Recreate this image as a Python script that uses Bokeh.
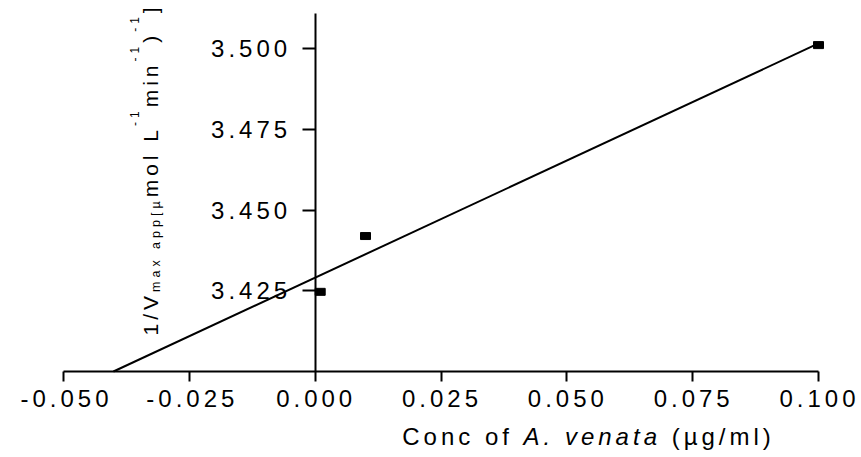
import numpy as np
from math import pi
from bokeh.plotting import figure
from bokeh.models import (LinearAxis, FixedTicker, PrintfTickFormatter, Label,
                          InlineStyleSheet, Range1d)
from bokeh.embed import file_html
from bokeh.resources import INLINE

# ---------------- data ----------------
conc = [0.001, 0.010, 0.100]             # Conc of A. venata (ug/ml)
inv_vmax = [3.4247, 3.4420, 3.5012]      # 1/Vmax app
x_ticks = [-0.050, -0.025, 0.000, 0.025, 0.050, 0.075, 0.100]
y_ticks = [3.425, 3.450, 3.475, 3.500]
x_lim = (-0.050, 0.100)
y_lim = (3.400, 3.511)
x_title_parts = [("Conc of", "normal"), ("A. venata", "italic"), ("(µg/ml)", "normal")]
y_title_parts = [("1/V", "main"), ("max app", "sub"), ("[µ", "sub"), ("mol L", "main"),
                 ("-1", "sup"), ("min", "main"), ("-1", "sup"), (")", "main"),
                 ("-1", "sup"), ("]", "main")]

# linear fit
slope, intercept = np.polyfit(conc, inv_vmax, 1)
fit_x = [(y_lim[0] - intercept) / slope, max(conc)]
fit_y = [intercept + slope * v for v in fit_x]

# ---------------- layout ----------------
# The axes box occupies pixels [63, 818] x [13, 371]; the Bokeh frame is the whole
# canvas so that labels outside the axes box are not clipped.
W, H = 861, 457
BL, BR, BT, BB = 63, 43, 13, 86
FW, FH = W - BL - BR, H - BT - BB
kx = (x_lim[1] - x_lim[0]) / FW
ky = (y_lim[1] - y_lim[0]) / FH
full_x = (x_lim[0] - BL * kx, x_lim[1] + BR * kx)
full_y = (y_lim[0] - BB * ky, y_lim[1] + BT * ky)

FONT = "Liberation Sans"
LS = 4            # letter spacing (px)
TICK_SIZE = 24

p = figure(width=W, height=H, x_range=Range1d(*full_x), y_range=Range1d(*full_y),
           output_backend="svg", toolbar_location=None,
           x_axis_location=None, y_axis_location=None,
           min_border=0, background_fill_color="white", border_fill_color="white")
p.outline_line_color = None
p.grid.visible = False
p.stylesheets = [InlineStyleSheet(css=":host { letter-spacing: %dpx; }" % LS)]


def style_axis(ax, tick_out, standoff):
    ax.axis_line_width = 2
    ax.axis_line_color = "black"
    ax.major_tick_line_width = 2
    ax.major_tick_line_color = "black"
    ax.major_tick_out = tick_out
    ax.major_tick_in = 0
    ax.minor_tick_out = 0
    ax.minor_tick_in = 0
    ax.minor_tick_line_color = None
    ax.major_label_text_font = FONT
    ax.major_label_text_font_size = "%dpx" % TICK_SIZE
    ax.major_label_text_color = "black"
    ax.major_label_standoff = standoff
    ax.formatter = PrintfTickFormatter(format="%.3f")


# bottom axis line + ticks
xa = LinearAxis(fixed_location=y_lim[0], bounds=x_lim)
style_axis(xa, 10, 6)
xa.ticker = FixedTicker(ticks=x_ticks)
xa.major_label_text_font_size = "0px"
xa.major_label_text_color = None
p.add_layout(xa, "below")

# bottom tick labels on a range shifted a few pixels (centres letter-spaced text)
shift_px = 9
d = shift_px * kx
p.extra_x_ranges = {"xlbl": Range1d(full_x[0] + d, full_x[1] + d)}
xl = LinearAxis(x_range_name="xlbl", fixed_location=y_lim[0], bounds=x_lim)
style_axis(xl, 10, 8)
xl.ticker = FixedTicker(ticks=x_ticks)
xl.axis_line_color = None
xl.major_tick_line_color = None
p.add_layout(xl, "below")

# y axis crossing at x = 0
ya = LinearAxis(fixed_location=0, bounds=y_lim)
style_axis(ya, 13, 31)
ya.ticker = FixedTicker(ticks=y_ticks)
p.add_layout(ya, "left")

# fitted line and points
p.line(fit_x, fit_y, line_color="black", line_width=2)
p.rect(conc, inv_vmax, width=10, height=7, width_units="screen",
       height_units="screen", fill_color="black", line_color="black")

# ---------------- titles ----------------
ADV = {'1': 556, '/': 278, 'V': 667, 'm': 833, 'a': 556, 'x': 500, ' ': 278, 'p': 556,
       '[': 278, ']': 278, 'µ': 576, 'o': 556, 'l': 222, 'L': 556, '-': 333, 'i': 222,
       'n': 556, ')': 333, '(': 333, 'C': 722, 'c': 500, 'f': 278, 'A': 667, '.': 278,
       'v': 500, 'e': 556, 't': 278, 'g': 556}


def text_w(s, size):
    return sum(ADV.get(ch, 556) for ch in s) * size / 1000.0 + LS * len(s)


def data_x(px):
    return full_x[0] + px * kx


def data_y(py):
    return full_y[1] - py * ky


def put(txt, px, py, size, angle=0.0, style="normal"):
    p.add_layout(Label(x=data_x(px), y=data_y(py), text=txt, angle=angle,
                       text_align="left", text_baseline="alphabetic", text_font=FONT,
                       text_font_size="%spx" % size, text_font_style=style,
                       text_color="black"))


# y title: rotated, built from pieces with sub/superscripts
Y_SIZE = {"main": 21, "sub": 12.5, "sup": 12}
Y_SHIFT = {"main": 0, "sub": 5, "sup": -16}
Y_BASE = 150
pos = 335
for txt, kind in y_title_parts:
    put(txt, Y_BASE + Y_SHIFT[kind], pos, Y_SIZE[kind], angle=pi / 2)
    pos -= text_w(txt, Y_SIZE[kind])

# x title: centred, italic species name
X_SIZE = 24
gap = text_w(" ", X_SIZE)
total = sum(text_w(t, X_SIZE) for t, _ in x_title_parts) + gap * (len(x_title_parts) - 1)
cx = 588 - total / 2
for txt, style in x_title_parts:
    put(txt, cx, 436, X_SIZE, style=style)
    cx += text_w(txt, X_SIZE) + gap

open("out.html", "w").write(file_html(p, INLINE))
